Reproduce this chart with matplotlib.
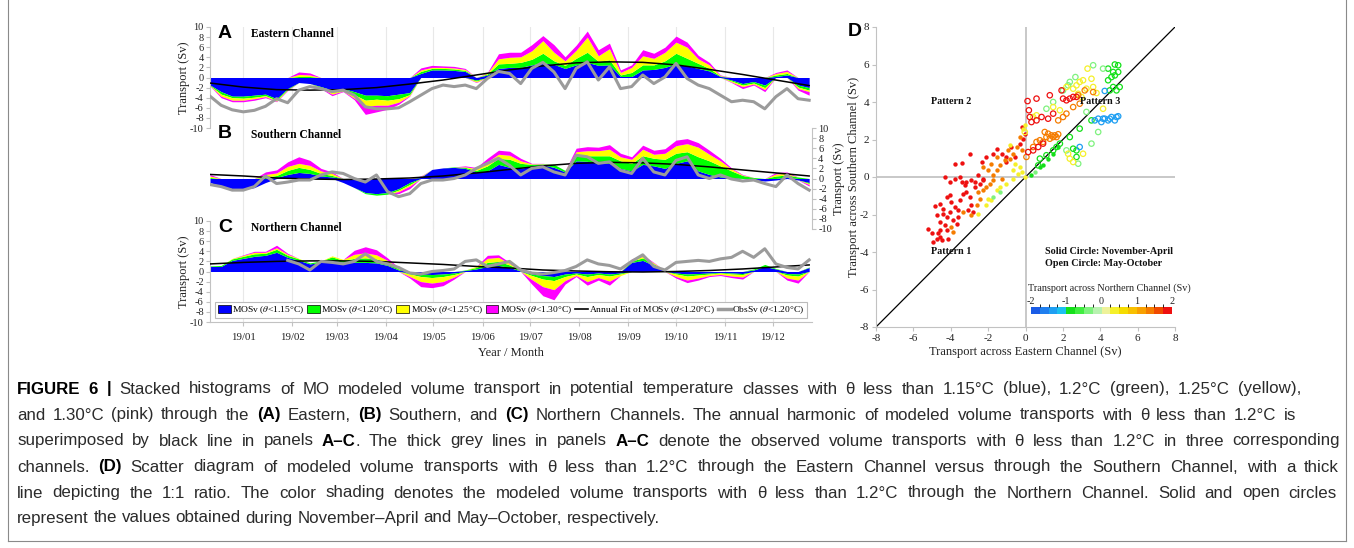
import numpy as np
import pandas as pd
import matplotlib
matplotlib.use('Agg')
import matplotlib.pyplot as plt
import matplotlib.dates as mdates
from matplotlib.patches import Patch
from matplotlib.lines import Line2D
from matplotlib.colors import ListedColormap, BoundaryNorm
from matplotlib.cm import ScalarMappable
from matplotlib import font_manager as fm

# ---------------- data (weekly samples from 2018-12-11) ----------------
start_date = '2018-12-11'
end_date = '2019-12-25 19:00'

A_blue = [-1.5,-2.8,-3.7,-3.7,-3.5,-3.3,-4.2,-2.2,-1.0,-1.2,-1.8,-2.5,-2.2,-2.8,-3.5,-3.5,-3.6,-3.3,-3.0,0.8,
          1.5,1.5,1.4,1.2,-0.5,0.5,1.8,2.0,2.0,2.5,2.9,2.6,1.8,2.5,3.0,2.4,2.5,0.2,0.2,1.5,
          1.6,2.0,2.7,2.3,1.8,1.3,0.2,-0.5,-1.2,-0.8,-1.5,0.2,0.5,-1.5,-2.0]
A_green = [-0.1,-0.5,-0.3,-0.4,-0.4,-0.3,-0.3,-0.2,0.2,0.2,-0.2,-0.4,-0.3,-0.6,-1.0,-0.8,-0.9,-0.9,-0.4,0.4,
           0.3,0.3,0.3,0.2,-0.2,0.2,0.9,0.8,1.0,1.1,1.9,0.7,0.6,1.3,2.0,0.8,1.0,0.3,0.8,1.0,
           0.9,1.3,2.1,1.5,1.0,0.5,0.1,-0.2,-0.3,-0.3,-0.5,0.3,0.3,-0.4,-0.5]
A_yellow = [-0.05,-0.4,-0.5,-0.4,-0.3,-0.2,-0.2,-0.1,0.4,0.3,-0.1,-0.4,-0.2,-0.7,-1.2,-1.2,-1.0,-0.7,-0.2,0.3,
            0.2,0.2,0.2,0.2,-0.2,0.2,1.0,1.2,1.1,1.7,2.5,1.7,0.9,1.6,3.0,1.1,2.2,0.5,1.0,1.8,
            1.3,1.7,2.2,2.2,0.9,0.7,0.1,-0.2,-0.3,-0.2,-0.4,0.3,0.4,-0.3,-0.3]
A_pink = [-0.05,-0.3,-0.3,-0.3,-0.3,-0.2,-0.1,-0.1,0.5,0.4,-0.1,-0.3,-0.1,-0.3,-1.6,-1.3,-0.8,-0.4,-0.1,0.4,
          0.4,0.3,0.3,0.2,-0.1,0.1,1.0,1.0,0.9,1.2,1.0,1.5,0.8,1.0,1.2,1.2,1.1,0.5,0.5,1.2,
          1.0,1.0,1.2,1.0,0.7,0.5,0.1,-0.1,-0.4,-0.2,-0.4,0.2,0.3,-0.3,-0.7]
A_obs = [-3.7,-5.5,-6.4,-6.8,-6.5,-5.7,-4.2,-5.0,-2.5,-1.8,-2.2,-2.8,-2.5,-3.5,-5.8,-6.2,-6.2,-6.0,-4.8,-3.5,
         -2.2,-1.5,-1.8,-1.5,-2.2,-0.2,1.2,0.8,-1.2,1.8,3.0,1.1,-2.2,1.8,3.1,-0.5,2.1,-2.2,-1.8,0.5,
         -1.2,0.1,2.8,-0.2,-1.5,-2.2,-3.5,-4.8,-4.5,-4.8,-6.2,-3.8,-2.2,-4.2,-4.5]

B_blue = [-0.8,-1.5,-2.0,-2.2,-1.8,-0.8,0.2,0.8,1.2,1.0,0.5,0.3,-0.8,-1.8,-2.8,-3.0,-2.8,-2.0,-0.8,0.2,
          1.8,2.1,2.2,2.0,1.3,1.5,2.8,2.2,2.0,2.5,2.7,2.2,1.3,3.5,3.4,3.0,3.0,2.0,1.5,2.8,
          2.5,2.0,3.0,3.5,1.5,0.8,0.3,0.2,0.0,-0.3,-0.5,-0.3,0.3,-0.3,-0.8]
B_green = [0.2,0,0,0,0,0.3,0.4,0.8,1.0,0.8,0.5,0.3,0,0,-0.2,-0.3,-0.3,-0.3,-0.4,0.1,
           0,0,0.1,0.2,0.3,1.0,1.2,1.6,1.0,0.3,0.2,0.6,0.3,1.0,1.1,1.5,1.5,1.5,1.5,1.7,
           1.5,1.8,2.0,1.8,2.8,2.7,2.2,1.3,0.6,0.2,0,0.5,0.4,0.3,-0.2]
B_yellow = [0.3,0,0,0,0,0.5,0.5,0.8,0.8,0.8,0.5,0.4,0,0,0,0,0,-0.3,-0.3,0.1,
            0,0,0,0.1,0.4,0.8,0.8,0.8,0.5,0.1,0.05,0,0,0.8,1.0,1.0,1.3,0.8,0.8,1.3,
            0.8,1.2,1.5,1.6,1.9,1.3,1.0,0.4,0.1,0,0,0.4,0.3,0,-0.2]
B_pink = [0.3,0,0,0,0,0.5,0.6,0.9,1.3,1.0,0.5,0.3,0,0,0,0,0,-0.4,-0.5,0.1,
          0,0,0,0.2,0.2,0.7,0.8,0.8,0.5,0.1,0.05,0,0,0.7,0.8,0.7,0.9,0.7,0.5,0.8,
          0.8,0.9,1.1,1.0,0.9,0.8,0.5,0.2,0.1,0,0,0.3,0.3,0,-0.3]
B_obs = [-1.2,-1.6,-2.3,-2.3,-1.6,0.5,-1.0,-0.7,-0.3,-0.3,0.7,1.3,1.0,0.0,-0.7,0.7,-2.6,-3.6,-3.0,-1.0,
         -0.3,-0.3,0.0,0.7,2.0,3.0,4.0,2.6,0.7,2.0,2.3,1.3,0.7,4.6,4.3,3.0,3.3,1.6,1.0,4.0,
         1.3,0.7,3.6,4.3,0.7,0.0,0.7,-0.1,-0.5,-0.3,-1.0,-1.6,0.7,-1.0,-2.3]

C_blue = [1.0,1.0,2.2,2.6,3.0,3.2,3.8,2.8,2.2,1.5,1.8,2.3,1.8,1.8,1.8,1.7,1.2,0.3,-0.3,-0.5,
          -0.6,-0.5,-0.3,0.2,0.5,1.0,1.2,0.8,0.1,-0.5,-0.8,-1.0,-0.5,-0.3,-0.5,-0.3,-0.5,-0.3,1.8,2.2,
          1.2,0.1,-0.3,-0.5,-0.4,-0.3,-0.2,-0.3,-0.4,0.3,1.0,0.5,-0.4,-0.5,0.8]
C_green = [0.1,0.2,0.3,0.4,0.5,0.4,0.6,0.4,0.3,0.2,0.3,0.6,0.4,0.8,0.9,0.8,0.5,0.2,-0.2,-0.5,
           -0.6,-0.5,-0.3,0.1,0.3,0.8,0.8,0.5,0.1,-0.3,-0.7,-0.8,-0.5,-0.2,-0.5,-0.3,-0.4,-0.2,0.3,0.5,
           0.3,0.1,-0.2,-0.4,-0.3,-0.2,-0.1,-0.2,-0.2,0.2,0.4,0.1,-0.3,-0.4,0.1]
C_yellow = [0,0,0.1,0.2,0.3,0.2,0.3,0.2,0.1,0,0,0.2,0.2,0.8,1.0,0.8,0.5,0.3,-0.5,-1.0,
            -1.1,-1.0,-0.5,0,0.2,0.8,0.8,0.3,0,-0.8,-1.5,-1.8,-0.8,-0.3,-1.0,-0.6,-1.0,-0.3,0.2,0.3,
            0.2,0,-0.5,-0.8,-0.6,-0.3,-0.3,-0.4,-0.5,0,0,0,-0.6,-0.8,0]
C_pink = [0,0,0,0.1,0.2,0.2,0.5,0.2,0,0,0,0,0,0.8,1.2,1.0,0.5,0,-0.3,-1.0,
          -0.9,-0.8,-0.4,0,0,0.6,0.5,0.2,0,-0.9,-1.8,-2.0,-0.7,-0.2,-0.7,-0.5,-0.8,0,0.2,0.3,
          0.1,0,-0.3,-0.5,-0.4,-0.2,-0.2,-0.3,-0.4,0,0,0,-0.4,-0.6,0]
nan = np.nan
C_obs = [nan,nan,nan,nan,nan,nan,nan,2.2,1.5,0.3,2.0,1.8,1.5,2.0,3.5,2.0,1.5,0.8,-0.3,-0.5,
         0.0,0.2,0.5,2.0,2.3,1.0,1.5,2.0,0.3,-0.3,-0.5,-0.2,0.2,1.0,2.3,1.5,1.2,0.5,2.0,3.3,
         1.0,0.3,1.8,2.0,2.2,2.0,2.5,2.8,4.0,2.8,4.5,1.5,0.8,0.5,2.3]

# annual-fit curves (every 21 days from start)
fit_A = [-1.1,-1.9,-2.4,-2.5,-2.4,-2.0,-1.3,-0.5,0.5,1.5,2.3,2.9,3.1,3.0,2.5,1.6,0.6,-0.5,-1.6]
fit_B = [0.8,0.5,0.1,-0.1,-0.2,-0.1,0.1,0.5,1.1,1.8,2.5,3.0,3.2,3.1,2.8,2.3,1.7,1.1,0.5]
fit_C = [1.5,1.8,2.0,2.1,2.1,2.0,1.7,1.4,1.0,0.7,0.3,0.1,-0.05,-0.1,0.0,0.2,0.5,0.9,1.3]

# ---- panel D scatter: (Eastern, Southern) grouped by Northern-channel value ----
solid_red_x = [-5.2,-5.03,-4.94,-4.76,-4.67,-4.58,-4.49,-4.58,-4.22,-4.14,-4.85,-4.58,-4.4,-4.22,-4.05,-3.96,-3.78,-3.6,-3.51,-3.33,
               -3.16,-2.98,-2.89,-2.71,-2.44,-2.26,-3.24,-3.42,-4.22,-4.4,-4.58,-4.76,-3.87,-3.69,-4.05,-4.31,-3.6,-3.07,-2.8,
               -4.31,-4.05,-3.78,-3.51,-3.16,-2.89,-2.71,-2.53,-2.26,-3.78,-3.42,-2.98,-2.35,-2.09,-1.73,-1.55,-1.28,-1.02,-0.75,-0.57,
               -0.3,-0.12,-0.04,-0.21,-1.02]
solid_red_y = [-2.75,-3.0,-3.47,-3.29,-3.0,-3.2,-3.38,-2.84,-2.84,-3.29,-1.56,-1.42,-1.69,-1.07,-0.98,-1.33,-1.6,-1.78,-1.24,-0.89,
               -0.8,-1.07,-1.51,-0.53,-0.36,-0.18,-0.44,-0.27,-2.13,-1.96,-2.4,-2.04,-2.31,-2.49,-1.87,-2.58,-2.13,-1.78,-1.87,
               0.0,-0.27,-0.09,0.0,-0.27,-0.18,-0.27,0.09,-0.09,0.71,0.75,1.21,0.8,1.07,1.24,1.51,1.24,1.07,1.6,1.07,
               1.78,2.04,2.31,2.67,0.8]
solid_orange_x = [-3.96,-3.87,-3.33,-2.89,-2.62,-2.44,-2.26,-2.09,-2.53,-1.91,-1.73,-2.26,-2.0,-1.73,-1.55,-1.37,-1.1,-0.93,-0.84,-0.66,
                  -0.48,-0.21,-0.3,-1.55,-1.82,-1.28]
solid_orange_y = [-2.67,-2.93,-1.87,-2.04,-1.51,-1.16,-0.71,-0.53,-0.8,-0.36,-0.18,0.53,0.36,0.09,0.36,0.62,0.89,1.42,0.98,1.24,
                  1.6,1.42,2.13,1.07,0.71,-0.09]
solid_yellow_x = [-2.53,-2.09,-1.82,-1.55,-1.37,-1.02,-0.66,-2.0,-0.84,-0.57,-0.39,-0.21,-0.04,-0.12,-0.04,-0.3,-0.66]
solid_yellow_y = [-1.96,-1.51,-1.24,-0.71,-0.53,-0.36,-0.09,-1.16,1.69,0.71,0.18,0.27,0.0,2.58,2.76,0.53,0.36]
solid_lgreen_x = [-1.73,-1.37,0.5]
solid_lgreen_y = [-1.07,-0.8,0.27]
solid_green_x = [0.32,0.77,0.94,1.21,1.48,1.75]
solid_green_y = [0.09,0.53,0.62,0.98,1.24,1.6]

open_green_x = [4.78,4.96,4.42,4.69,4.96,4.6,4.78,4.42,4.69,5.04,4.87,4.51,2.9,2.37,3.53,2.55,2.73,1.84,1.66,1.48,1.12,0.77,0.68,2.73]
open_green_y = [6.0,5.96,5.78,5.6,5.6,5.33,5.42,5.16,4.8,4.8,4.62,4.62,2.58,2.13,3.02,1.51,1.42,1.78,1.6,1.42,1.16,0.98,0.62,1.07]
open_lgreen_x = [4.15,3.62,2.67,2.37,2.28,2.01,1.48,3.89,3.53,2.82,2.19,1.12,3.26]
open_lgreen_y = [5.78,5.96,5.33,5.07,4.89,4.62,4.0,2.4,1.78,0.71,1.42,3.64,3.47]
open_blue_x = [4.24,3.71,3.89,4.15,4.42,4.6,4.06,4.87,4.96,4.78,4.51,2.9,4.24]
open_blue_y = [4.59,3.02,3.11,3.11,3.02,3.2,2.93,3.2,3.24,3.02,3.11,1.6,3.11]
open_yellow_x = [3.32,3.53,3.08,2.9,2.73,3.26,3.62,3.8,2.99,2.55,2.19,2.82,0.41,0.59,2.28,2.37,2.55,3.08,4.15,1.48,1.84,-0.04]
open_yellow_y = [5.78,5.24,5.16,5.07,4.89,4.71,4.8,4.48,4.27,4.71,4.8,4.44,3.2,3.29,1.24,0.98,0.8,1.24,3.64,3.73,3.56,2.4]
open_orange_x = [3.17,2.82,3.62,1.03,1.21,1.39,1.57,1.66,1.12,1.3,1.48,1.75,0.77,0.59,0.41,1.75,2.01,2.19,2.55,2.9,0.94,0.05]
open_orange_y = [4.62,4.36,4.53,2.4,2.31,2.22,2.22,2.13,2.13,2.04,2.13,2.28,1.96,1.87,1.6,3.02,3.2,3.38,3.73,3.91,1.87,1.07]
open_red_x = [1.93,2.73,2.37,2.19,0.11,0.18,0.23,0.32,0.59,0.59,0.86,0.14,0.41,0.68,0.94,1.48,1.21,2.55,2.01,1.3]
open_red_y = [4.62,4.27,4.18,4.09,4.05,3.56,3.2,2.93,3.02,4.18,3.2,1.33,1.42,1.6,1.78,3.38,3.11,4.27,4.18,4.36]

north_red, north_orange, north_yellow, north_lgreen, north_green, north_blue = 1.9, 1.3, 0.4, -0.3, -0.8, -1.4

cbar_colors = ['#1a5ce6', '#1f7fef', '#1f9ff2', '#1cc0f0', '#14e01a', '#40ee40', '#7ef27e', '#b8f2b0',
               '#eef29a', '#f5f02a', '#f5dc00', '#f8c000', '#f8a000', '#f57c00', '#f04a00', '#ee1010']
cbar_ticks = [-2, -1, 0, 1, 2]

legend_labels = [r'MOSv ($\theta$<1.15°C)', r'MOSv ($\theta$<1.20°C)', r'MOSv ($\theta$<1.25°C)',
                 r'MOSv ($\theta$<1.30°C)', r'Annual Fit of MOSv ($\theta$<1.20°C)', r'ObsSv ($\theta$<1.20°C)']

caption_lines = [
    [("FIGURE 6 |", True), (" Stacked histograms of MO modeled volume transport in potential temperature classes with θ less than 1.15°C (blue), 1.2°C (green), 1.25°C (yellow),", False)],
    [("and 1.30°C (pink) through the ", False), ("(A)", True), (" Eastern, ", False), ("(B)", True), (" Southern, and ", False), ("(C)", True),
     (" Northern Channels. The annual harmonic of modeled volume transports with θ less than 1.2°C is", False)],
    [("superimposed by black line in panels ", False), ("A–C", True), (". The thick grey lines in panels ", False), ("A–C", True),
     (" denote the observed volume transports with θ less than 1.2°C in three corresponding", False)],
    [("channels. ", False), ("(D)", True), (" Scatter diagram of modeled volume transports with θ less than 1.2°C through the Eastern Channel versus through the Southern Channel, with a thick", False)],
    [("line depicting the 1:1 ratio. The color shading denotes the modeled volume transports with θ less than 1.2°C through the Northern Channel. Solid and open circles", False)],
    [("represent the values obtained during November–April and May–October, respectively.", False)],
]

# ---------------- drawing ----------------
W, H = 1354, 548
fig = plt.figure(figsize=(W / 100, H / 100), dpi=100)
SERIF = ['Liberation Serif', 'DejaVu Serif']
SANS = ['Liberation Sans', 'DejaVu Sans']
plt.rcParams['font.family'] = SERIF
plt.rcParams['mathtext.fontset'] = 'stix'
plt.rcParams['axes.unicode_minus'] = False


def rect(l, t, w, h):
    return [l / W, 1 - (t + h) / H, w / W, h / H]


x = mdates.date2num(pd.date_range(start_date, periods=len(A_blue), freq='7D'))
xf = mdates.date2num(pd.date_range(start_date, periods=len(fit_A), freq='21D'))
xmin = mdates.date2num(pd.Timestamp(start_date))
xmax = mdates.date2num(pd.Timestamp(end_date))

COLS = ['#0000ff', '#00ff00', '#ffff00', '#ff00ff']
OBS_C = '#9b9b9b'
AX_C = '#c2c2c2'
TXT_C = '#222222'


def stacked(ax, comps):
    pos = np.zeros(len(x))
    neg = np.zeros(len(x))
    for comp, col in zip(comps, COLS):
        c = np.asarray(comp, float)
        p = np.clip(c, 0, None)
        n = np.clip(c, None, 0)
        ax.fill_between(x, pos, pos + p, color=col, lw=0, zorder=1)
        ax.fill_between(x, neg, neg + n, color=col, lw=0, zorder=1)
        pos = pos + p
        neg = neg + n


def base(ax):
    ax.set_xlim(xmin, xmax)
    ax.set_ylim(-10, 10)
    ax.set_yticks(range(-10, 11, 2))
    ax.patch.set_alpha(0)
    ax.xaxis.set_major_locator(mdates.MonthLocator())
    ax.grid(axis='x', color='#e8e8e8', lw=0.8)
    ax.set_axisbelow(True)
    for s in ax.spines.values():
        s.set_visible(False)
    ax.tick_params(axis='y', direction='out', length=3, color=AX_C, labelsize=7.5, pad=1.5, labelcolor=TXT_C)


panels = [
    ('A', 'Eastern Channel', 27, (A_blue, A_green, A_yellow, A_pink), A_obs, fit_A, 'left'),
    ('B', 'Southern Channel', 128, (B_blue, B_green, B_yellow, B_pink), B_obs, fit_B, 'right'),
    ('C', 'Northern Channel', 221, (C_blue, C_green, C_yellow, C_pink), C_obs, fit_C, 'left'),
]
axes = []
for letter, name, top, comps, obs, fit, side in panels:
    ax = fig.add_axes(rect(210, top, 602, 101))
    base(ax)
    stacked(ax, comps)
    ax.plot(xf, fit, color='k', lw=1.1, zorder=3)
    ax.plot(x, obs, color=OBS_C, lw=2.2, zorder=4)
    ax.spines[side].set_visible(True)
    ax.spines[side].set_color(AX_C)
    ax.set_ylabel('Transport (Sv)', fontsize=9, color=TXT_C)
    if side == 'right':
        ax.yaxis.tick_right()
        ax.yaxis.set_label_position('right')
        ax.yaxis.set_label_coords(1.035, 0.5)
    else:
        ax.yaxis.set_label_coords(-0.034, 0.5)
    fig.text(218 / W, 1 - (top + 6) / H, letter, fontsize=14, weight='bold', family=SANS, va='center', ha='left')
    fig.text(251 / W, 1 - (top + 7) / H, name, fontsize=8.3, weight='bold', va='center', ha='left')
    axes.append(ax)

axA, axB, axC = axes
for ax in (axA, axB):
    ax.tick_params(axis='x', length=0, labelbottom=False)
axC.spines['bottom'].set_visible(True)
axC.spines['bottom'].set_color(AX_C)
axC.xaxis.set_major_formatter(mdates.DateFormatter('%y/%m'))
axC.tick_params(axis='x', direction='out', length=3, color=AX_C, labelsize=7.8, pad=5, labelcolor=TXT_C)
axC.set_xlabel('Year / Month', fontsize=9, color=TXT_C)
axC.xaxis.set_label_coords(0.5, -0.25)

handles = [Patch(facecolor=c, edgecolor='k', lw=0.5) for c in COLS] + \
          [Line2D([], [], color='k', lw=1.2), Line2D([], [], color=OBS_C, lw=2.5)]
leg = axC.legend(handles, legend_labels, loc='lower center', bbox_to_anchor=(0.5, 0.035),
                 ncol=6, fontsize=6.8, handlelength=1.35, handleheight=0.95,
                 handletextpad=0.15, columnspacing=0.3, borderpad=0.25, borderaxespad=0,
                 frameon=True, fancybox=False, edgecolor='#bbbbbb', framealpha=1)
leg.get_frame().set_linewidth(0.8)

# ---------------- panel D ----------------
cmap = ListedColormap(cbar_colors)
norm = BoundaryNorm(np.linspace(cbar_ticks[0], cbar_ticks[-1], len(cbar_colors) + 1), cmap.N)

axD = fig.add_axes(rect(876, 27, 299, 300))
axD.set_xlim(-8, 8)
axD.set_ylim(-8, 8)
axD.set_xticks(range(-8, 9, 2))
axD.set_yticks(range(-8, 9, 2))
for s in ['top', 'right']:
    axD.spines[s].set_visible(False)
for s in ['left', 'bottom']:
    axD.spines[s].set_color(AX_C)
axD.tick_params(direction='out', length=3, color=AX_C, labelsize=8, labelcolor=TXT_C, pad=2)
axD.axhline(0, color='#c8c8c8', lw=1.4, zorder=1)
axD.axvline(0, color='#c8c8c8', lw=1.4, zorder=1)
axD.axline((0, 0), slope=1, color='k', lw=0.9, zorder=2)

solid_groups = [(solid_red_x, solid_red_y, north_red), (solid_orange_x, solid_orange_y, north_orange),
                (solid_yellow_x, solid_yellow_y, north_yellow), (solid_lgreen_x, solid_lgreen_y, north_lgreen),
                (solid_green_x, solid_green_y, north_green)]
open_groups = [(open_green_x, open_green_y, north_green), (open_lgreen_x, open_lgreen_y, north_lgreen),
               (open_blue_x, open_blue_y, north_blue), (open_yellow_x, open_yellow_y, north_yellow),
               (open_orange_x, open_orange_y, north_orange), (open_red_x, open_red_y, north_red)]
for gx, gy, nv in solid_groups:
    axD.scatter(gx, gy, s=10, color=cmap(norm(nv)), lw=0, zorder=3)
for gx, gy, nv in open_groups:
    axD.scatter(gx, gy, s=15, facecolors='none', edgecolors=[cmap(norm(nv))], lw=0.9, zorder=3)

axD.set_xlabel('Transport across Eastern Channel (Sv)', fontsize=9, color=TXT_C)
axD.xaxis.set_label_coords(0.5, -0.065)
axD.set_ylabel('Transport across Southern Channel (Sv)', fontsize=9, color=TXT_C)
axD.yaxis.set_label_coords(-0.054, 0.5)

kw = dict(fontsize=7.3, weight='bold', color='#111111')
axD.text(-4, 4, 'Pattern 2', ha='center', va='center', **kw)
axD.text(4, 4, 'Pattern 3', ha='center', va='center', **kw)
axD.text(-4, -4, 'Pattern 1', ha='center', va='center', **kw)
axD.text(1.03, -4.0, 'Solid Circle: November-April', ha='left', va='center', **kw)
axD.text(1.03, -4.62, 'Open Circle: May-October', ha='left', va='center', **kw)
fig.text(848 / W, 1 - 32 / H, 'D', fontsize=14, weight='bold', family=SANS, va='center', ha='left')

cax = fig.add_axes(rect(1031, 307, 141, 7))
cb = fig.colorbar(ScalarMappable(norm=norm, cmap=cmap), cax=cax, orientation='horizontal', ticks=cbar_ticks)
cb.outline.set_visible(False)
cax.xaxis.set_ticks_position('top')
cax.tick_params(length=0, labelsize=7.3, pad=1, labelcolor=TXT_C)
fig.text(1028 / W, 1 - 288 / H, 'Transport across Northern Channel (Sv)', fontsize=7.3, va='center', ha='left', color=TXT_C)

# ---------------- caption (word by word, justified to the reference line ends) ----------------
names = {f.name for f in fm.fontManager.ttflist}
cap_family = next((n for n in ['Liberation Sans', 'Roboto'] if n in names), 'DejaVu Sans')
renderer = fig.canvas.get_renderer()
cap_size = 12.2


def measure(txt, weight):
    t = fig.text(0, 0, txt, fontsize=cap_size, family=cap_family, weight=weight)
    w = t.get_window_extent(renderer).width
    t.remove()
    return w


def adv(txt, weight):
    return measure('I' + txt + 'I', weight) - measure('II', weight)


def tokenize(segs):
    toks = []
    pending = False
    for txt, bold in segs:
        word = None
        sb = False
        for ch in txt:
            if ch == ' ':
                if word is not None:
                    toks.append((word, bold, sb))
                    word = None
                pending = True
            else:
                if word is None:
                    word = ''
                    sb = pending
                    pending = False
                word += ch
        if word is not None:
            toks.append((word, bold, sb))
    return toks


line_y = [389, 415, 441, 467, 493, 518]
line_end = [1301, 1296, 1340, 1339, 1337, None]
x0 = 17.0
space_w = adv(' ', 'normal')
for segs, y, xe in zip(caption_lines, line_y, line_end):
    toks = tokenize(segs)
    widths = [adv(w, 'bold' if b else 'normal') for w, b, _ in toks]
    ngaps = sum(1 for _, _, sb in toks if sb)
    gap = space_w
    if xe is not None and ngaps:
        gap = min(max(space_w, (xe - x0 - sum(widths)) / ngaps), 2.2 * space_w)
    xx = x0
    for (w, b, sb), wd in zip(toks, widths):
        if sb:
            xx += gap
        fig.text(xx / W, 1 - (y + 4.5) / H, w, fontsize=cap_size, family=cap_family,
                 weight='bold' if b else 'normal', va='baseline', ha='left',
                 color='#000000' if b else '#2b2b2b')
        xx += wd

# figure frame
for xs, ys in [((8, 8), (0, 541)), ((8, 1346), (541, 541)), ((1346, 1346), (0, 541))]:
    fig.add_artist(Line2D([v / W for v in xs], [1 - v / H for v in ys], color='#8a8a8a', lw=0.8))

fig.savefig('out.png', dpi=100)
